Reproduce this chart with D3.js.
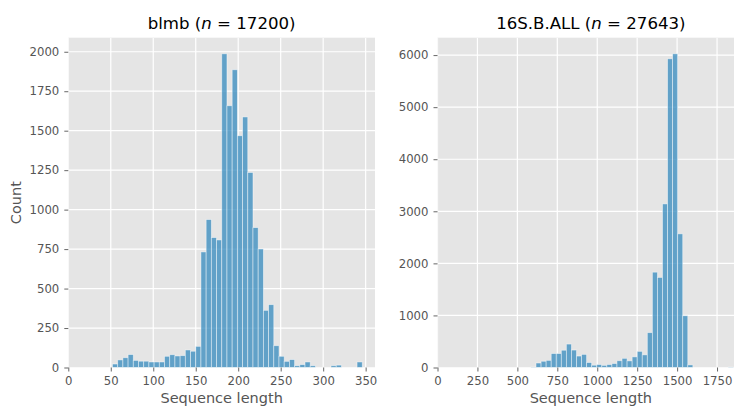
<!DOCTYPE html>
<html>
<head>
<meta charset="utf-8">
<script src="https://cdn.jsdelivr.net/npm/d3@7"></script>
<style>
  body { margin: 0; background: #fff; }
  svg { display: block; font-family: "DejaVu Sans", sans-serif; }
</style>
</head>
<body>
<svg id="chart" width="734" height="407"></svg>
<script>
// ---- data ----
const leftTitle = "blmb";
const leftN = 17200;
const leftBinStart = 52;
const leftBinWidth = 6.125;
const leftCounts = [22, 48, 62, 82, 45, 40, 40, 35, 35, 35, 71, 81, 73, 75, 111, 103, 134,
  732, 937, 823, 808, 1987, 1658, 1886, 1468, 1587, 1235, 886, 751,
  362, 398, 138, 71, 39, 50, 11, 18, 35, 11, 0, 0, 0, 11, 15, 0, 0, 0, 35];
const leftXTicks = [0, 50, 100, 150, 200, 250, 300, 350];
const leftYTicks = [0, 250, 500, 750, 1000, 1250, 1500, 1750, 2000];
const leftXMax = 361;
const leftYMax = 2089;

const rightTitle = "16S.B.ALL";
const rightN = 27643;
const rightBinStart = 585.1;
const rightBinWidth = 31.67;
const rightCounts = [8, 86, 120, 137, 268, 268, 332, 450, 335, 220, 252, 95, 44, 57,
  41, 57, 76, 130, 176, 127, 204, 310, 243, 669,
  1831, 1730, 3142, 5929, 6025, 2567, 994, 50, 0, 0, 0, 0, 0, 0, 0, 8];
const rightXTicks = [0, 250, 500, 750, 1000, 1250, 1500, 1750];
const rightYTicks = [0, 1000, 2000, 3000, 4000, 5000, 6000];
const rightXMax = 1920;
const rightYMax = 6334;

const xLabel = "Sequence length";
const yLabel = "Count";

// ---- drawing ----
const svg = d3.select("#chart");
const plotTop = 37.7, plotBottom = 367.5;

function panel(cfg) {
  const x = d3.scaleLinear().domain([0, cfg.xMax]).range([cfg.left, cfg.right]);
  const y = d3.scaleLinear().domain([0, cfg.yMax]).range([plotBottom, plotTop]);
  const clipId = "clip" + cfg.id;
  svg.append("clipPath").attr("id", clipId).append("rect")
    .attr("x", cfg.left).attr("y", plotTop).attr("width", cfg.right - cfg.left).attr("height", plotBottom - plotTop);
  const g = svg.append("g");
  g.append("rect").attr("x", cfg.left).attr("y", plotTop)
    .attr("width", cfg.right - cfg.left).attr("height", plotBottom - plotTop).attr("fill", "#E5E5E5");
  const grid = g.append("g").attr("clip-path", `url(#${clipId})`);
  grid.selectAll("line.gx").data(cfg.xTicks).join("line").attr("class", "gx")
    .attr("x1", d => x(d)).attr("x2", d => x(d)).attr("y1", plotTop).attr("y2", plotBottom)
    .attr("stroke", "#fff").attr("stroke-width", 1.2);
  grid.selectAll("line.gy").data(cfg.yTicks).join("line").attr("class", "gy")
    .attr("x1", cfg.left).attr("x2", cfg.right).attr("y1", d => y(d)).attr("y2", d => y(d))
    .attr("stroke", "#fff").attr("stroke-width", 1.2);
  const bins = cfg.counts.map((c, i) => ({ x0: cfg.binStart + i * cfg.binWidth, x1: cfg.binStart + (i + 1) * cfg.binWidth, c }));
  grid.selectAll("rect.bar").data(bins.filter(b => b.c > 0)).join("rect").attr("class", "bar")
    .attr("x", d => x(d.x0)).attr("width", d => x(d.x1) - x(d.x0))
    .attr("y", d => y(d.c)).attr("height", d => y(0) - y(d.c))
    .attr("fill", "#348ABD").attr("fill-opacity", 0.75)
    .attr("stroke", "#fff").attr("stroke-opacity", 0.55).attr("stroke-width", 0.8);
  const xAxis = d3.axisBottom(x).tickValues(cfg.xTicks).tickSize(4).tickPadding(5.5).tickFormat(d3.format("d"));
  const yAxis = d3.axisLeft(y).tickValues(cfg.yTicks).tickSize(4).tickPadding(5).tickFormat(d3.format("d"));
  const gx = svg.append("g").attr("transform", `translate(0,${plotBottom})`).call(xAxis);
  const gy = svg.append("g").attr("transform", `translate(${cfg.left},0)`).call(yAxis);
  [gx, gy].forEach(a => {
    a.select(".domain").remove();
    a.selectAll(".tick line").attr("stroke", "#555").attr("stroke-width", 0.9);
    a.selectAll(".tick text").attr("fill", "#555").attr("font-size", "11.7px")
      .attr("font-family", "DejaVu Sans, sans-serif");
  });
  svg.append("text").attr("x", (cfg.left + cfg.right) / 2).attr("y", 402.5)
    .attr("text-anchor", "middle").attr("fill", "#555").attr("font-size", "14.5px").text(xLabel);
  const t = svg.append("text").attr("x", (cfg.left + cfg.right) / 2).attr("y", 29.2)
    .attr("text-anchor", "middle").attr("fill", "#000").attr("font-size", "16.6px");
  t.append("tspan").text(cfg.title + " (");
  t.append("tspan").attr("font-style", "italic").text("n");
  t.append("tspan").text(" = " + cfg.n + ")");
}

panel({ id: "L", left: 68.3, right: 375, xMax: leftXMax, yMax: leftYMax,
  xTicks: leftXTicks, yTicks: leftYTicks, counts: leftCounts,
  binStart: leftBinStart, binWidth: leftBinWidth, title: leftTitle, n: leftN });
panel({ id: "R", left: 437.5, right: 744.2, xMax: rightXMax, yMax: rightYMax,
  xTicks: rightXTicks, yTicks: rightYTicks, counts: rightCounts,
  binStart: rightBinStart, binWidth: rightBinWidth, title: rightTitle, n: rightN });

svg.append("text").attr("transform", `translate(20.7,${(plotTop + plotBottom) / 2}) rotate(-90)`)
  .attr("text-anchor", "middle").attr("fill", "#555").attr("font-size", "14.5px").text(yLabel);
</script>
</body>
</html>
